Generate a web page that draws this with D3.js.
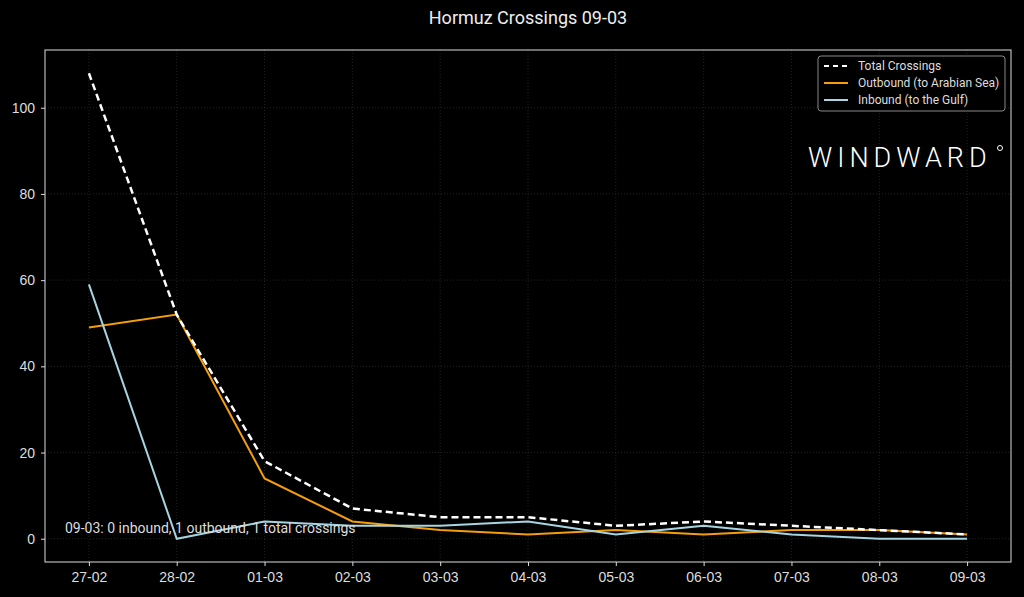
<!DOCTYPE html>
<html><head><meta charset="utf-8">
<script src="https://cdn.jsdelivr.net/npm/d3@7"></script>
<style>body{margin:0;background:#000;}svg{font-family:Roboto,"Open Sans",sans-serif;}</style>
</head><body><div id="chart"></div>
<script>
// dati
const dates = ["27-02","28-02","01-03","02-03","03-03","04-03","05-03","06-03","07-03","08-03","09-03"];
const totalCrossings = [108, 52, 18, 7, 5, 5, 3, 4, 3, 2, 1];
const outbound = [49, 52, 14, 4, 2, 1, 2, 1, 2, 2, 1];
const inbound = [59, 0, 4, 3, 3, 4, 1, 3, 1, 0, 0];
const yTicks = [0, 20, 40, 60, 80, 100];

const W = 1024, H = 597;
const m = {left: 45, right: 13, top: 50, bottom: 35};

const svg = d3.select("#chart").append("svg").attr("width", W).attr("height", H);
svg.append("rect").attr("width", W).attr("height", H).attr("fill", "#000");

const x = d3.scalePoint().domain(dates).range([m.left, W - m.right]).padding(0.5);
const y = d3.scaleLinear().domain([-5.4, 113.4]).range([H - m.bottom, m.top]);

// griglia
const g = svg.append("g");
g.selectAll(".gy").data(yTicks).join("line")
    .attr("x1", m.left).attr("x2", W - m.right)
    .attr("y1", d => y(d)).attr("y2", d => y(d))
    .attr("stroke", "#444").attr("stroke-opacity", 0.5).attr("stroke-dasharray", "1,2");
g.selectAll(".gx").data(dates).join("line")
    .attr("x1", d => x(d)).attr("x2", d => x(d))
    .attr("y1", m.top).attr("y2", H - m.bottom)
    .attr("stroke", "#444").attr("stroke-opacity", 0.5).attr("stroke-dasharray", "1,2");

// bordo
svg.append("rect").attr("x", m.left).attr("y", m.top)
    .attr("width", W - m.left - m.right).attr("height", H - m.top - m.bottom)
    .attr("fill", "none").attr("stroke", "#ddd").attr("stroke-width", 1);

// assi
const xAxis = svg.append("g").attr("transform", `translate(0,${H - m.bottom})`)
    .call(d3.axisBottom(x).tickSize(4).tickPadding(6));
const yAxis = svg.append("g").attr("transform", `translate(${m.left},0)`)
    .call(d3.axisLeft(y).tickValues(yTicks).tickSize(4).tickPadding(6));
[xAxis, yAxis].forEach(a => {
    a.select(".domain").remove();
    a.selectAll("line").attr("stroke", "#ddd");
    a.selectAll("text").attr("fill", "#ddd").style("font-size", "14px");
});

// linee
const line = d3.line().x((d, i) => x(dates[i])).y(d => y(d));
svg.append("path").datum(outbound).attr("d", line)
    .attr("fill", "none").attr("stroke", "#f59e0b").attr("stroke-width", 2);
svg.append("path").datum(inbound).attr("d", line)
    .attr("fill", "none").attr("stroke", "#a6d4e0").attr("stroke-width", 2);
svg.append("path").datum(totalCrossings).attr("d", line)
    .attr("fill", "none").attr("stroke", "#fff").attr("stroke-width", 2.5)
    .attr("stroke-dasharray", "7,4");

// titolo
svg.append("text").attr("x", (m.left + W - m.right) / 2).attr("y", 24)
    .attr("text-anchor", "middle").attr("fill", "#eee").style("font-size", "18px")
    .text("Hormuz Crossings 09-03");

// annotazione
const last = dates.length - 1;
svg.append("text").attr("x", 65).attr("y", 533).attr("fill", "#ddd").style("font-size", "14px")
    .text(`09-03: ${inbound[last]} inbound, ${outbound[last]} outbound, ${totalCrossings[last]} total crossings`);

// legenda
const leg = svg.append("g").attr("transform", "translate(818,56)");
leg.append("rect").attr("x", 0).attr("y", 0).attr("width", 187).attr("height", 55).attr("rx", 3)
    .attr("fill", "#000").attr("stroke", "#888");
const items = [
    {name: "Total Crossings", color: "#fff", dash: "5,4"},
    {name: "Outbound (to Arabian Sea)", color: "#f59e0b", dash: null},
    {name: "Inbound (to the Gulf)", color: "#a6d4e0", dash: null}
];
items.forEach((it, i) => {
    const yy = 10 + i * 17;
    leg.append("line").attr("x1", 6).attr("x2", 30).attr("y1", yy).attr("y2", yy)
        .attr("stroke", it.color).attr("stroke-width", 2).attr("stroke-dasharray", it.dash);
    leg.append("text").attr("x", 40).attr("y", yy + 4).attr("fill", "#ddd")
        .style("font-size", "12px").text(it.name);
});

// logo
svg.append("text").attr("x", 808).attr("y", 167).attr("fill", "#fff")
    .style("font-size", "27px").style("letter-spacing", "5px").style("font-weight", 300)
    .text("WINDWARD");
svg.append("circle").attr("cx", 1000).attr("cy", 148).attr("r", 2.5)
    .attr("fill", "none").attr("stroke", "#fff").attr("stroke-width", 1);
</script></body></html>
